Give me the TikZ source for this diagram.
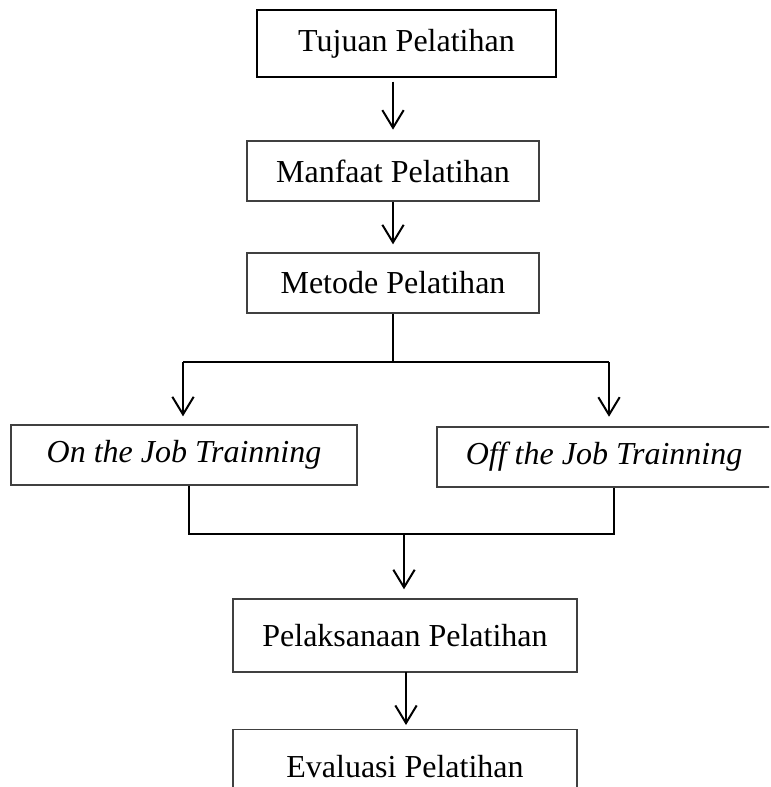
\documentclass[tikz,border=0pt]{standalone}
\usepackage{fontspec}
\setmainfont{Liberation Serif}
\usetikzlibrary{arrows.meta}
\definecolor{boxgray}{HTML}{404040}
\tikzset{
  box/.style={draw=boxgray, line width=0.5pt, rectangle, inner sep=0pt, font=\fontsize{12pt}{14pt}\selectfont},
  topbox/.style={box, draw=black, line width=0.8pt},
  conn/.style={draw=black, line width=0.75pt},
  arr/.style={conn, -{Straight Barb[length=6.6pt,width=8pt,line width=0.75pt]}},
}
\begin{document}
\begin{tikzpicture}[x=0.375pt,y=-0.375pt]
\useasboundingbox (0,0) rectangle (771,787);
\clip (0,0) rectangle (769,787);
\node[topbox, minimum width=299*0.375pt, minimum height=67*0.375pt] (tujuan) at (406.5,43.5) {Tujuan Pelatihan};
\node[box, minimum width=292*0.375pt, minimum height=60*0.375pt] (manfaat) at (393,171) {Manfaat Pelatihan};
\node[box, minimum width=292*0.375pt, minimum height=60*0.375pt] (metode) at (393,283) {Metode Pelatihan};
\node[box, minimum width=346*0.375pt, minimum height=60*0.375pt] (on) at (184,455) {\itshape On the Job Trainning};
\node[box, minimum width=356*0.375pt, minimum height=60*0.375pt] (off) at (615,457) {\hspace*{-8.2pt}\itshape Off the Job Trainning};
\node[box, minimum width=344*0.375pt, minimum height=73*0.375pt] (pelak) at (405,635.5) {Pelaksanaan Pelatihan};
\node[box, minimum width=344*0.375pt, minimum height=73*0.375pt, anchor=north] (eval) at (405,729) {Evaluasi Pelatihan};

\coordinate (a1) at (393,79);
\coordinate (split) at (393,362);
\coordinate (bl) at (183,362);
\coordinate (br) at (609,362);
\coordinate (jl) at (189,534);
\coordinate (jr) at (614,534);
\coordinate (jm) at (404,534);
\coordinate (a5) at (406,672);

\draw[arr, shorten >=4pt, shorten <=1pt] (a1) -- (manfaat.north);
\draw[arr, shorten >=3pt] (manfaat.south) -- (metode.north);
\draw[conn] (metode.south) -- (split);
\draw[conn] (bl) -- (br);
\draw[arr, shorten >=3pt] (bl) -- (on.north -| bl);
\draw[arr, shorten >=3.6pt] (br) -- (off.north -| br);
\draw[conn] (on.south -| jl) -- (jl) -- (jr) -- (off.south -| jr);
\draw[arr, shorten >=3.4pt] (jm) -- (pelak.north -| jm);
\draw[arr, shorten >=1.5pt] (a5) -- (eval.north -| a5);
\end{tikzpicture}
\end{document}
